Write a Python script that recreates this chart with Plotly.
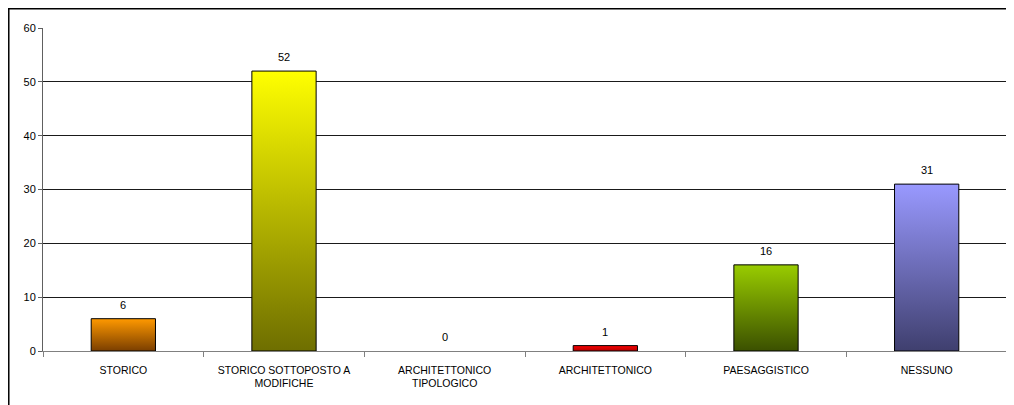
import plotly.graph_objects as go

categories = ["STORICO", "STORICO SOTTOPOSTO A<br>MODIFICHE", "ARCHITETTONICO<br>TIPOLOGICO",
              "ARCHITETTONICO", "PAESAGGISTICO", "NESSUNO"]
values = [6, 52, 0, 1, 16, 31]
top_colors = ["#FF9900", "#FFFF00", "#FF00FF", "#FF0000", "#99CC00", "#9999FF"]
bottom_colors = ["#7A3E00", "#6E6E00", "#800080", "#B00000", "#3B5000", "#3F3F6E"]
y_ticks = [0, 10, 20, 30, 40, 50, 60]

BAR_W = 0.4
FONT = "Liberation Sans, Arial, sans-serif"

fig = go.Figure()

xs = list(range(len(categories)))
for i, (v, tc, bc) in enumerate(zip(values, top_colors, bottom_colors)):
    if v <= 0:
        continue
    x0, x1 = i - BAR_W / 2, i + BAR_W / 2
    fig.add_trace(go.Scatter(
        x=[x0, x0, x1, x1, x0], y=[0, v, v, 0, 0],
        mode="lines", fill="toself",
        fillgradient=dict(type="vertical", colorscale=[[0, bc], [1, tc]]),
        line=dict(color="#000000", width=1),
        hoverinfo="skip", showlegend=False,
    ))

for i, v in enumerate(values):
    fig.add_annotation(x=i, y=v, text=str(v), showarrow=False,
                       yanchor="bottom", yshift=6,
                       font=dict(family=FONT, size=11, color="#000000"))

fig.add_shape(type="rect", xref="paper", yref="paper",
              x0=-0.0355, x1=1.02, y0=1.0596, y1=-0.5,
              line=dict(color="#000000", width=1.5), layer="above")

fig.update_layout(
    width=1006, height=397,
    margin=dict(l=35, r=7, t=20, b=54),
    paper_bgcolor="#FFFFFF", plot_bgcolor="#FFFFFF",
    font=dict(family=FONT, size=11, color="#000000"),
    showlegend=False,
    xaxis=dict(
        range=[-0.5, len(categories) - 0.5],
        tickmode="array", tickvals=xs, ticktext=categories,
        ticks="", showgrid=False, zeroline=False,
        showline=True, linecolor="#808080", linewidth=1,
        tickfont=dict(family=FONT, size=10.5, color="#000000"),
        ticklabelstandoff=9,
        minor=dict(tickmode="array", tickvals=[k - 0.5 for k in range(len(categories) + 1)],
                   ticks="outside", ticklen=5, tickcolor="#808080", showgrid=False),
        fixedrange=True,
    ),
    yaxis=dict(
        range=[0, 60], tickmode="array", tickvals=y_ticks,
        ticks="outside", ticklen=4, tickcolor="#606060",
        showgrid=True, gridcolor="#1A1A1A", gridwidth=1,
        zeroline=False, showline=True, linecolor="#606060", linewidth=1,
        tickfont=dict(family=FONT, size=11, color="#000000"),
        fixedrange=True,
    ),
)

fig.write_html("out.html")
